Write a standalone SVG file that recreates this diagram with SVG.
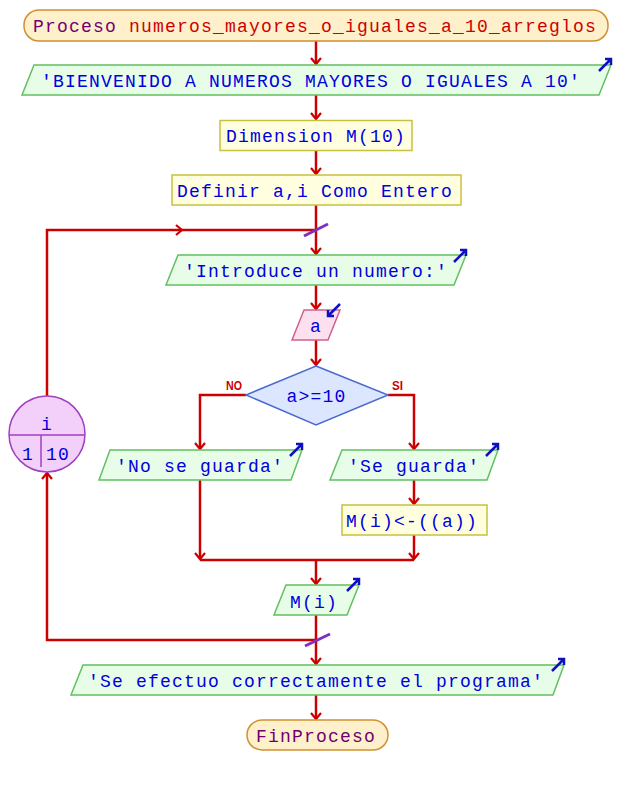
<svg xmlns="http://www.w3.org/2000/svg" width="632" height="785" viewBox="0 0 632 785">
<style>
.t{font-family:"Liberation Mono","Courier New",monospace;font-size:18px;letter-spacing:1.2px;fill:#0000dd}
.term{fill:#fff0cc;stroke:#d09030;stroke-width:1.5}
.proc{fill:#ffffe0;stroke:#c8c040;stroke-width:1.5}
.out{fill:#e8fde8;stroke:#60c060;stroke-width:1.5}
.inp{fill:#fde0f0;stroke:#d06090;stroke-width:1.5}
.dec{fill:#dde6ff;stroke:#4a6ad0;stroke-width:1.5}
.loop{fill:#f3d0fa;stroke:#a040c0;stroke-width:1.5}
.c{fill:none;stroke:#cc0000;stroke-width:2.5}
.ca{fill:none;stroke:#cc0000;stroke-width:2.5;marker-end:url(#ah)}
.ico{fill:none;stroke:#1010c0;stroke-width:2.5}
.sl{stroke:#8030c0;stroke-width:3}
.lbl{font-family:"Liberation Sans",Arial,sans-serif;font-weight:bold;font-size:12px;fill:#cc0000}
</style>
<defs>
<marker id="ah" markerUnits="userSpaceOnUse" markerWidth="14" markerHeight="14" refX="0" refY="0" viewBox="-8 -7 10 14" orient="auto" overflow="visible">
<path d="M-6,-5 L0,0 L-6,5" fill="none" stroke="#cc0000" stroke-width="2.2"/>
</marker>
</defs>
<rect width="632" height="785" fill="#ffffff"/>
<g id="connectors">
<path class="ca" d="M316,41 V64"/>
<path class="ca" d="M316,95 V119"/>
<path class="ca" d="M316,150 V174"/>
<path class="ca" d="M316,205 V254"/>
<path class="ca" d="M47,396 V230 H182"/>
<path class="c" d="M182,230 H316"/>
<path class="ca" d="M316,285 V309"/>
<path class="ca" d="M316,340 V365"/>
<path class="ca" d="M246,395 H200 V449"/>
<path class="ca" d="M388,395 H414 V449"/>
<path class="ca" d="M414,480 V504"/>
<path class="ca" d="M200,480 V559"/>
<path class="ca" d="M414,535 V559"/>
<path class="c" d="M200,560 H414"/>
<path class="ca" d="M316,560 V584"/>
<path class="ca" d="M316,615 V664"/>
<path class="ca" d="M316,640 H47 V473"/>
<path class="ca" d="M316,695 V719"/>
<line class="sl" x1="304" y1="236" x2="328" y2="224"/>
<line class="sl" x1="305" y1="646" x2="330" y2="634"/>
</g>
<g id="start">
<rect class="term" x="24" y="10" width="584" height="31" rx="15"/>
<text class="t" x="33" y="32"><tspan fill="#700070">Proceso </tspan><tspan fill="#cc0000">numeros_mayores_o_iguales_a_10_arreglos</tspan></text>
</g>
<g id="out1">
<polygon class="out" points="34,65 611,65 599,95 22,95"/>
<text class="t" x="41" y="87">'BIENVENIDO A NUMEROS MAYORES O IGUALES A 10'</text>
<path class="ico" d="M599,71 L611,59 M605,59 H611 V65"/>
</g>
<g id="dim">
<rect class="proc" x="220" y="120.5" width="192" height="30"/>
<text class="t" x="226" y="142">Dimension M(10)</text>
</g>
<g id="def">
<rect class="proc" x="172" y="175" width="289" height="30"/>
<text class="t" x="177" y="197">Definir a,i Como Entero</text>
</g>
<g id="loopnode">
<circle class="loop" cx="47" cy="434" r="38"/>
<line x1="9" y1="435" x2="85" y2="435" stroke="#a040c0" stroke-width="1.5"/>
<line x1="41" y1="435" x2="41" y2="467" stroke="#a040c0" stroke-width="1.5"/>
<text class="t" x="47" y="430" text-anchor="middle" letter-spacing="0">i</text>
<text class="t" x="28" y="460" text-anchor="middle" letter-spacing="0">1</text>
<text class="t" x="58" y="460" text-anchor="middle" letter-spacing="1.2">10</text>
</g>
<g id="out2">
<polygon class="out" points="178,255 466,255 454,285 166,285"/>
<text class="t" x="184" y="277">'Introduce un numero:'</text>
<path class="ico" d="M454,262 L466,250 M460,250 H466 V256"/>
</g>
<g id="inA">
<polygon class="inp" points="304,310 340,310 328,340 292,340"/>
<text class="t" x="316" y="332" text-anchor="middle" letter-spacing="0">a</text>
<path class="ico" d="M340,304 L328,316 M334,316 H328 V310"/>
</g>
<g id="cond">
<polygon class="dec" points="316,366 388,395 316,425 246,395"/>
<text class="t" x="316.6" y="402" text-anchor="middle">a&gt;=10</text>
<text class="lbl" x="226" y="390" textLength="16" lengthAdjust="spacingAndGlyphs">NO</text>
<text class="lbl" x="392" y="390" textLength="11" lengthAdjust="spacingAndGlyphs">SI</text>
</g>
<g id="outNo">
<polygon class="out" points="110,450 302,450 291,480 99,480"/>
<text class="t" x="116" y="472">'No se guarda'</text>
<path class="ico" d="M290,456 L302,444 M296,444 H302 V450"/>
</g>
<g id="outSi">
<polygon class="out" points="342,450 498,450 487,480 330,480"/>
<text class="t" x="348" y="472">'Se guarda'</text>
<path class="ico" d="M486,456 L498,444 M492,444 H498 V450"/>
</g>
<g id="assign">
<rect class="proc" x="342" y="505" width="145" height="30"/>
<text class="t" x="346" y="527" letter-spacing="0.6">M(i)&lt;-((a))</text>
</g>
<g id="outM">
<polygon class="out" points="286,585 359,585 347,615 274,615"/>
<text class="t" x="290" y="608">M(i)</text>
<path class="ico" d="M347,591 L359,579 M353,579 H359 V585"/>
</g>
<g id="outEnd">
<polygon class="out" points="83,665 564,665 553,695 71,695"/>
<text class="t" x="88" y="687">'Se efectuo correctamente el programa'</text>
<path class="ico" d="M552,671 L564,659 M558,659 H564 V665"/>
</g>
<g id="end">
<rect class="term" x="247" y="720" width="141" height="30" rx="15"/>
<text class="t" x="256" y="742" style="fill:#700070">FinProceso</text>
</g>
</svg>
